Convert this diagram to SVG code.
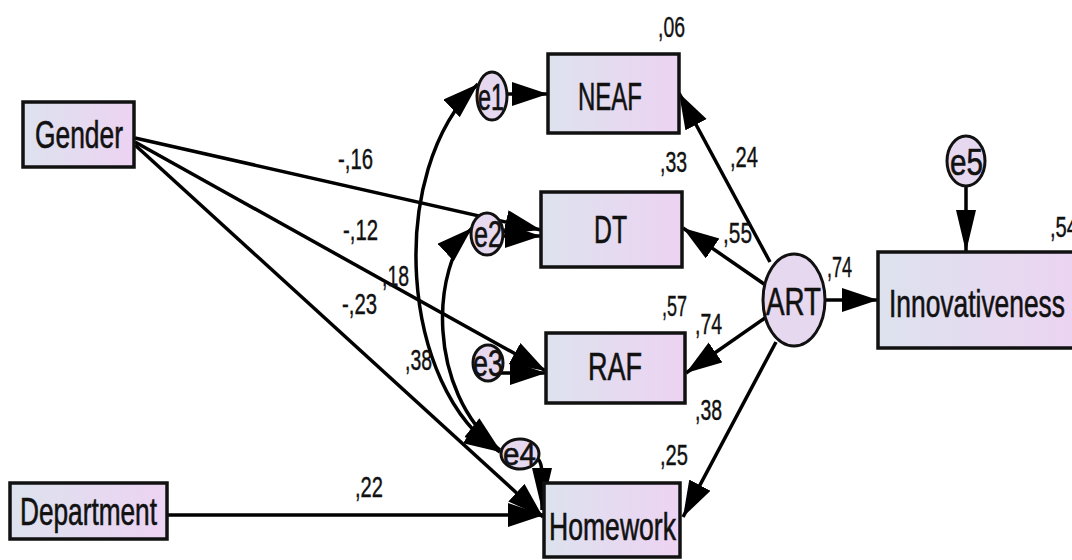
<svg xmlns="http://www.w3.org/2000/svg" width="1072" height="560" viewBox="0 0 1072 560">
<defs>
<linearGradient id="gbox" x1="0" y1="0" x2="1" y2="0">
<stop offset="0" stop-color="#dde2ee"/>
<stop offset="1" stop-color="#edd3f2"/>
</linearGradient>
<marker id="ah" markerUnits="userSpaceOnUse" markerWidth="38" markerHeight="26" refX="36" refY="12" orient="auto-start-reverse">
<path d="M0,0 L36,12 L0,24 z" fill="#000"/>
</marker>
<marker id="av" markerUnits="userSpaceOnUse" markerWidth="44" markerHeight="22" refX="42" refY="10" orient="auto">
<path d="M0,0 L42,10 L0,20 z" fill="#000"/>
</marker>
</defs>
<style>
.box{fill:url(#gbox);stroke:#111;stroke-width:3.5}
.ell{fill:#e6d9ef;stroke:#111;stroke-width:3}
.ln{fill:none;stroke:#000;stroke-width:3.5}
.nl{font-family:"Liberation Sans",Arial,sans-serif;font-size:38px;fill:#111;stroke:#111;stroke-width:0.6}
.el{font-family:"Liberation Sans",Arial,sans-serif;font-size:37px;fill:#111;stroke:#111;stroke-width:0.6}
.pl{font-family:"Liberation Sans",Arial,sans-serif;font-size:29px;fill:#111;stroke:#111;stroke-width:0.4}
</style>
<rect width="1072" height="560" fill="#fff"/>
<g id="connectors">
<path class="ln" d="M135,138 L541,230" marker-end="url(#ah)"/>
<path class="ln" d="M135,142 L546,371" marker-end="url(#ah)"/>
<path class="ln" d="M135,145 L543,517" marker-end="url(#ah)"/>
<path class="ln" d="M167,515 L544,515" marker-end="url(#ah)"/>
<path class="ln" d="M506,94 L548,94" marker-end="url(#ah)"/>
<path class="ln" d="M502,236 L541,236" marker-end="url(#ah)"/>
<path class="ln" d="M500,373 L546,373" marker-end="url(#ah)"/>
<path class="ln" d="M537,458 Q542,462 542,475 L542,510" marker-end="url(#av)"/>
<path class="ln" d="M770,262 L679,93" marker-end="url(#ah)"/>
<path class="ln" d="M764,284 L683,228" marker-end="url(#ah)"/>
<path class="ln" d="M765,318 L686,373" marker-end="url(#ah)"/>
<path class="ln" d="M776,342 L683,517" marker-end="url(#ah)"/>
<path class="ln" d="M826,300 L878,300" marker-end="url(#ah)"/>
<path class="ln" d="M966,187 L966,252" marker-end="url(#av)"/>
<path class="ln" d="M478,84 C385,170 400,390 500,452" marker-start="url(#ah)" marker-end="url(#ah)"/>
<path class="ln" d="M472,228 C432,265 425,390 500,450" marker-start="url(#ah)" marker-end="url(#ah)"/>
</g>
<g id="Gender"><rect class="box" x="23" y="102" width="111" height="65"/><text class="nl" x="35" y="148" textLength="88" lengthAdjust="spacingAndGlyphs">Gender</text></g>
<g id="Department"><rect class="box" x="10" y="483" width="157" height="56"/><text class="nl" x="20" y="525" textLength="137" lengthAdjust="spacingAndGlyphs">Department</text></g>
<g id="NEAF"><rect class="box" x="548" y="54" width="131" height="79"/><text class="nl" x="578" y="110" textLength="64" lengthAdjust="spacingAndGlyphs">NEAF</text></g>
<g id="DT"><rect class="box" x="541" y="192" width="141" height="75"/><text class="nl" x="594" y="243" textLength="33" lengthAdjust="spacingAndGlyphs">DT</text></g>
<g id="RAF"><rect class="box" x="546" y="333" width="139" height="70"/><text class="nl" x="588" y="380" textLength="54" lengthAdjust="spacingAndGlyphs">RAF</text></g>
<g id="Homework"><rect class="box" x="544" y="483" width="136" height="74"/><text class="nl" x="549" y="540" textLength="127" lengthAdjust="spacingAndGlyphs">Homework</text></g>
<g id="Innovativeness"><rect class="box" x="878" y="252" width="210" height="96"/><text class="nl" x="889" y="317" textLength="176" lengthAdjust="spacingAndGlyphs">Innovativeness</text></g>
<g id="ART"><ellipse class="ell" cx="794" cy="300" rx="31" ry="46"/><text class="nl" x="766" y="315" textLength="55" lengthAdjust="spacingAndGlyphs">ART</text></g>
<g id="e1"><ellipse class="ell" cx="492" cy="96" rx="15" ry="24"/><text class="el" x="478" y="110" textLength="26" lengthAdjust="spacingAndGlyphs">e1</text></g>
<g id="e2"><ellipse class="ell" cx="487" cy="234" rx="16" ry="21"/><text class="el" x="474" y="247" textLength="28" lengthAdjust="spacingAndGlyphs">e2</text></g>
<g id="e3"><ellipse class="ell" cx="488" cy="363" rx="15" ry="18"/><text class="el" x="473" y="376" textLength="30" lengthAdjust="spacingAndGlyphs">e3</text></g>
<g id="e4"><ellipse class="ell" cx="520" cy="454" rx="19" ry="15"/><text class="el" x="503" y="465" textLength="33" lengthAdjust="spacingAndGlyphs" style="font-size:31px">e4</text></g>
<g id="e5"><ellipse class="ell" cx="966" cy="161" rx="19" ry="25"/><text class="el" x="950" y="175" textLength="33" lengthAdjust="spacingAndGlyphs">e5</text></g>
<g id="labels">
<text class="pl" x="658" y="37" textLength="27" lengthAdjust="spacingAndGlyphs">,06</text>
<text class="pl" x="660" y="172" textLength="27" lengthAdjust="spacingAndGlyphs">,33</text>
<text class="pl" x="730" y="167" textLength="28" lengthAdjust="spacingAndGlyphs">,24</text>
<text class="pl" x="723" y="243" textLength="29" lengthAdjust="spacingAndGlyphs">,55</text>
<text class="pl" x="827" y="277" textLength="25" lengthAdjust="spacingAndGlyphs">,74</text>
<text class="pl" x="662" y="316" textLength="25" lengthAdjust="spacingAndGlyphs">,57</text>
<text class="pl" x="695" y="334" textLength="27" lengthAdjust="spacingAndGlyphs">,74</text>
<text class="pl" x="695" y="420" textLength="27" lengthAdjust="spacingAndGlyphs">,38</text>
<text class="pl" x="660" y="465" textLength="28" lengthAdjust="spacingAndGlyphs">,25</text>
<text class="pl" x="1050" y="237" textLength="28" lengthAdjust="spacingAndGlyphs">,54</text>
<text class="pl" x="338" y="169" textLength="35" lengthAdjust="spacingAndGlyphs">-,16</text>
<text class="pl" x="343" y="240" textLength="35" lengthAdjust="spacingAndGlyphs">-,12</text>
<text class="pl" x="382" y="286" textLength="27" lengthAdjust="spacingAndGlyphs">,18</text>
<text class="pl" x="342" y="314" textLength="35" lengthAdjust="spacingAndGlyphs">-,23</text>
<text class="pl" x="405" y="370" textLength="27" lengthAdjust="spacingAndGlyphs">,38</text>
<text class="pl" x="355" y="497" textLength="28" lengthAdjust="spacingAndGlyphs">,22</text>
</g>
</svg>
